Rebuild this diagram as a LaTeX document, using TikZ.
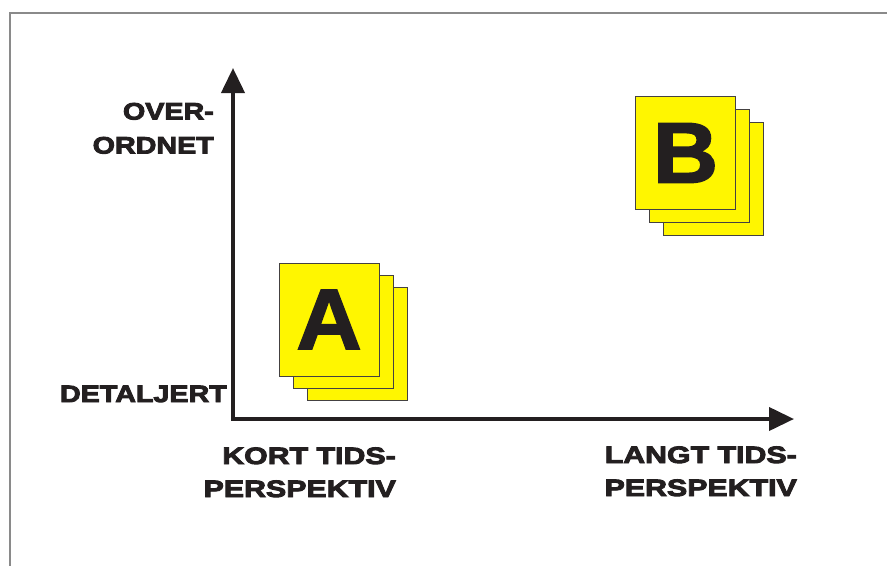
\documentclass[tikz,border=0pt]{standalone}
\usepackage{fontspec}
\usepackage{tikz}
\usetikzlibrary{arrows.meta}
\newfontfamily\bottomfont[FakeStretch=1.28,FakeBold=4]{Liberation Sans}
\newfontfamily\sidefont[FakeStretch=1.21,FakeBold=4]{Liberation Sans}
\newfontfamily\letterfont[FakeStretch=1.05,FakeBold=2]{Liberation Sans}
\definecolor{ink}{HTML}{231F20}
\definecolor{sheetyellow}{HTML}{FFF600}
\definecolor{framegray}{HTML}{8A8A8A}
\tikzstyle{sheet}=[draw=ink!85!white, line width=0.9pt, fill=sheetyellow, minimum width=100pt, minimum height=113pt, inner sep=0pt]
\tikzstyle{axis}=[line width=4pt, draw=ink, {Triangle[length=25pt,width=23pt]}-{Triangle[length=25pt,width=23pt]}]
\tikzstyle{bottomlabel}=[text=ink, inner sep=0pt, align=right, anchor=base east, font=\bottomfont\bfseries\fontsize{23.7}{33}\selectfont]
\tikzstyle{sidelabel}=[text=ink, inner sep=0pt, align=right, anchor=base east, font=\sidefont\bfseries\fontsize{23.7}{34}\selectfont]
\tikzstyle{letter}=[text=ink, font=\letterfont\bfseries\fontsize{86}{86}\selectfont]

\begin{document}
\begin{tikzpicture}[x=1pt,y=-1pt]
	\useasboundingbox (0,0) rectangle (887,566);
	\draw[framegray, line width=1.6pt] (887,12.7) -- (9.7,12.7) -- (9.7,566);
	\coordinate (origo) at (233,419);
	\coordinate (ytip) at (233,68);
	\coordinate (xtip) at (794,419);
	\draw[axis] (ytip) -- (origo) -- (xtip);
	\node[sheet] (a3) at (357,344) {};
	\node[sheet] (a2) at (343,331.5) {};
	\node[sheet, letter] (a1) at (329,319.5) {A};
	\node[sheet] (b3) at (713,179) {};
	\node[sheet] (b2) at (699,166) {};
	\node[sheet, letter] (b1) at (685.5,153) {B};
	\node[sidelabel] (over) at (214,153.5) {OVER-\\ORDNET};
	\node[sidelabel] (detalj) at (227,402) {DETALJERT};
	\node[bottomlabel] (kort) at (396,497) {KORT TIDS-\\PERSPEKTIV};
	\node[bottomlabel] (langt) at (797,496) {LANGT TIDS-\\PERSPEKTIV};
\end{tikzpicture}
\end{document}
